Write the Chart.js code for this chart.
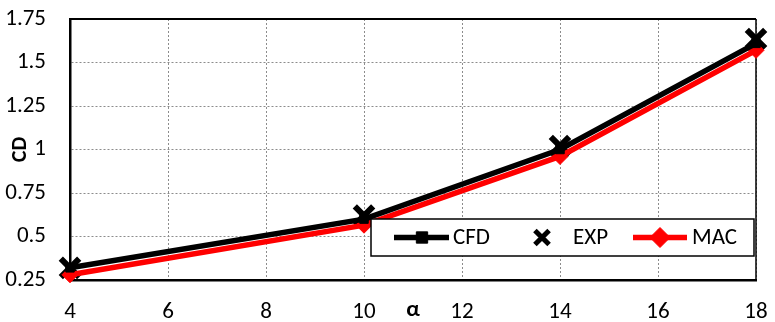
<!DOCTYPE html>
<html>
<head>
<meta charset="UTF-8" />
<script src="https://cdn.jsdelivr.net/npm/chart.js"></script>
<style>
  body { margin: 0; background: #fff; }
  #wrap { width: 775px; height: 322px; }
</style>
</head>
<body>
<div id="wrap"><canvas id="chart" width="775" height="322"></canvas></div>
<script>
// values
const alpha = [4, 10, 14, 18];
const cfd = [0.32, 0.60, 1.00, 1.61];
const exp = [0.32, 0.62, 1.02, 1.635];
const mac = [0.28, 0.565, 0.96, 1.57];
const xTicks = [4, 6, 8, 10, 12, 14, 16, 18];
const yTicks = [0.25, 0.5, 0.75, 1, 1.25, 1.5, 1.75];

const FONT = "Carlito, Lato, 'Open Sans', sans-serif";

const toPoints = (ys) => alpha.map((x, i) => ({ x, y: ys[i] }));

// frame on top / right of plot area
const framePlugin = {
  id: 'frame',
  beforeDatasetsDraw(chart) {
    const { ctx, chartArea: a } = chart;
    ctx.save();
    ctx.strokeStyle = '#000';
    ctx.lineWidth = 2;
    ctx.beginPath();
    ctx.moveTo(a.left, a.top);
    ctx.lineTo(a.right, a.top);
    ctx.stroke();
    ctx.lineWidth = 1.5;
    ctx.beginPath();
    ctx.moveTo(a.right, a.top);
    ctx.lineTo(a.right, a.bottom);
    ctx.stroke();
    ctx.restore();
  }
};

// legend box drawn inside the plot, like the original
const legendPlugin = {
  id: 'boxLegend',
  afterDraw(chart) {
    const { ctx } = chart;
    const box = { x: 371, y: 219, w: 383, h: 37 };
    ctx.save();
    ctx.fillStyle = '#fff';
    ctx.fillRect(box.x, box.y, box.w, box.h);
    ctx.strokeStyle = '#000';
    ctx.lineWidth = 1.5;
    ctx.strokeRect(box.x, box.y, box.w, box.h);
    const cy = box.y + box.h / 2;
    ctx.font = '23px ' + FONT;
    ctx.textBaseline = 'middle';

    const items = [
      { ds: 0, line: [394, 449], mark: 422, size: 8, text: 'CFD', tx: 453 },
      { ds: 2, line: null, mark: 542, size: 10, text: 'EXP', tx: 573 },
      { ds: 1, line: [633, 687], mark: 660, size: 10, text: 'MAC', tx: 692 }
    ];
    items.forEach(it => {
      const d = chart.data.datasets[it.ds];
      ctx.fillStyle = d.backgroundColor;
      ctx.strokeStyle = d.borderColor;
      if (it.line) {
        ctx.lineWidth = d.borderWidth;
        ctx.beginPath();
        ctx.moveTo(it.line[0], cy);
        ctx.lineTo(it.line[1], cy);
        ctx.stroke();
      }
      ctx.lineWidth = it.ds === 2 ? 5 : 1;
      Chart.helpers.drawPoint(ctx, {
        pointStyle: d.pointStyle,
        radius: it.size,
        borderWidth: ctx.lineWidth,
        rotation: 0
      }, it.mark, cy);
      ctx.fillStyle = '#000';
      ctx.fillText(it.text, it.tx, cy + 1);
    });
    ctx.restore();
  }
};

const chart = new Chart(document.getElementById('chart'), {
  type: 'scatter',
  data: {
    datasets: [
      {
        label: 'CFD',
        data: toPoints(cfd),
        showLine: true,
        borderColor: '#000',
        backgroundColor: '#000',
        borderWidth: 5.5,
        pointStyle: 'rect',
        pointRadius: 6,
        pointBorderWidth: 1,
        clip: false
      },
      {
        label: 'MAC',
        data: toPoints(mac),
        showLine: true,
        borderColor: '#ff0000',
        backgroundColor: '#ff0000',
        borderWidth: 5.5,
        pointStyle: 'rectRot',
        pointRadius: 8,
        pointBorderWidth: 1,
        clip: false
      },
      {
        label: 'EXP',
        data: toPoints(exp),
        showLine: false,
        borderColor: '#000',
        backgroundColor: '#000',
        pointStyle: 'crossRot',
        pointRadius: 13,
        pointBorderWidth: 6,
        clip: false
      }
    ]
  },
  options: {
    responsive: false,
    animation: false,
    layout: { padding: { top: 17, right: 16, left: 0, bottom: 0 } },
    plugins: {
      legend: { display: false },
      tooltip: { enabled: false }
    },
    scales: {
      x: {
        type: 'linear',
        min: 4,
        max: 18,
        afterFit(s) {
          s.height = 42;
          s.paddingLeft = 0;
          s.paddingRight = 0;
        },
        afterBuildTicks(s) { s.ticks = xTicks.map(v => ({ value: v })); },
        ticks: {
          color: '#000',
          padding: 18,
          font: { family: FONT, size: 23 }
        },
        grid: {
          color: '#8c8c8c',
          lineWidth: 1,
          drawTicks: false,
          tickLength: 0
        },
        border: { color: '#000', width: 2.5, dash: [2, 2] },
        title: {
          display: true,
          text: 'α',
          color: '#000',
          align: 'center',
          padding: { top: 0, bottom: -2 },
          font: { family: FONT, size: 23, weight: 'bold', lineHeight: 1.2 }
        }
      },
      y: {
        min: 0.25,
        max: 1.75,
        afterFit(s) {
          s.width = 70;
          s.paddingTop = 0;
          s.paddingBottom = 0;
        },
        afterBuildTicks(s) { s.ticks = yTicks.map(v => ({ value: v })); },
        ticks: {
          color: '#000',
          padding: 24,
          font: { family: FONT, size: 23 },
          callback: (v) => String(v)
        },
        grid: {
          color: '#8c8c8c',
          lineWidth: 1,
          drawTicks: false,
          tickLength: 0
        },
        border: { color: '#000', width: 2.5, dash: [2, 2] },
        title: {
          display: true,
          text: 'CD',
          color: '#000',
          padding: { top: 7, bottom: 0 },
          font: { family: FONT, size: 22, weight: 'bold', lineHeight: 1.2 }
        }
      }
    }
  },
  plugins: [framePlugin, legendPlugin]
});
</script>
</body>
</html>
